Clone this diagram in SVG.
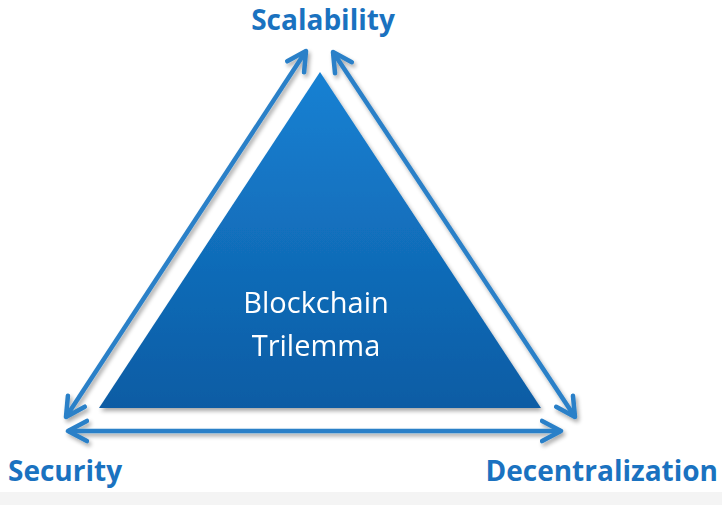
<svg xmlns="http://www.w3.org/2000/svg" width="722" height="505" viewBox="0 0 722 505">
<defs>
<linearGradient id="tri" x1="0" y1="0" x2="0" y2="1">
<stop offset="0" stop-color="#1781d3"/>
<stop offset="1" stop-color="#0c5ca4"/>
</linearGradient>
<filter id="sh" x="-10%" y="-10%" width="120%" height="120%">
<feGaussianBlur in="SourceAlpha" stdDeviation="2"/>
<feOffset dx="2" dy="3"/>
<feComponentTransfer><feFuncA type="linear" slope="0.35"/></feComponentTransfer>
<feMerge><feMergeNode/><feMergeNode in="SourceGraphic"/></feMerge>
</filter>
<marker id="ah" viewBox="0 0 10 10" refX="8.5" refY="5" markerWidth="5.6" markerHeight="5.6" orient="auto-start-reverse" markerUnits="strokeWidth">
<path d="M1,1 L8.5,5 L1,9" fill="none" stroke="#2a80c8" stroke-width="1.8" stroke-linecap="round" stroke-linejoin="round"/>
</marker>
<style>
.lbl{font-family:"Open Sans","Liberation Sans",sans-serif;font-weight:bold;fill:#1a72c0;font-size:28px}
.in{font-family:"Open Sans","Liberation Sans",sans-serif;fill:#ffffff;font-size:29px}
.arr{fill:none;stroke:#2a80c8;stroke-width:4.5;marker-start:url(#ah);marker-end:url(#ah)}
</style>
</defs>
<rect width="722" height="505" fill="#ffffff"/>
<rect x="0" y="492" width="722" height="13" fill="#f4f4f4"/>
<g id="triangle" filter="url(#sh)">
<polygon points="320,72 99,408 541,408" fill="url(#tri)"/>
<text class="in" x="316" y="313" text-anchor="middle">Blockchain</text>
<text class="in" x="316" y="356" text-anchor="middle">Trilemma</text>
</g>
<g id="connectors" filter="url(#sh)">
<line class="arr" x1="306" y1="51" x2="66" y2="417"/>
<line class="arr" x1="333" y1="52" x2="575" y2="417"/>
<line class="arr" x1="68" y1="431" x2="561" y2="431"/>
</g>
<g id="scalability"><text class="lbl" x="323" y="30" text-anchor="middle">Scalability</text></g>
<g id="security"><text class="lbl" x="8" y="481">Security</text></g>
<g id="decentralization"><text class="lbl" x="718" y="481" text-anchor="end">Decentralization</text></g>
</svg>
